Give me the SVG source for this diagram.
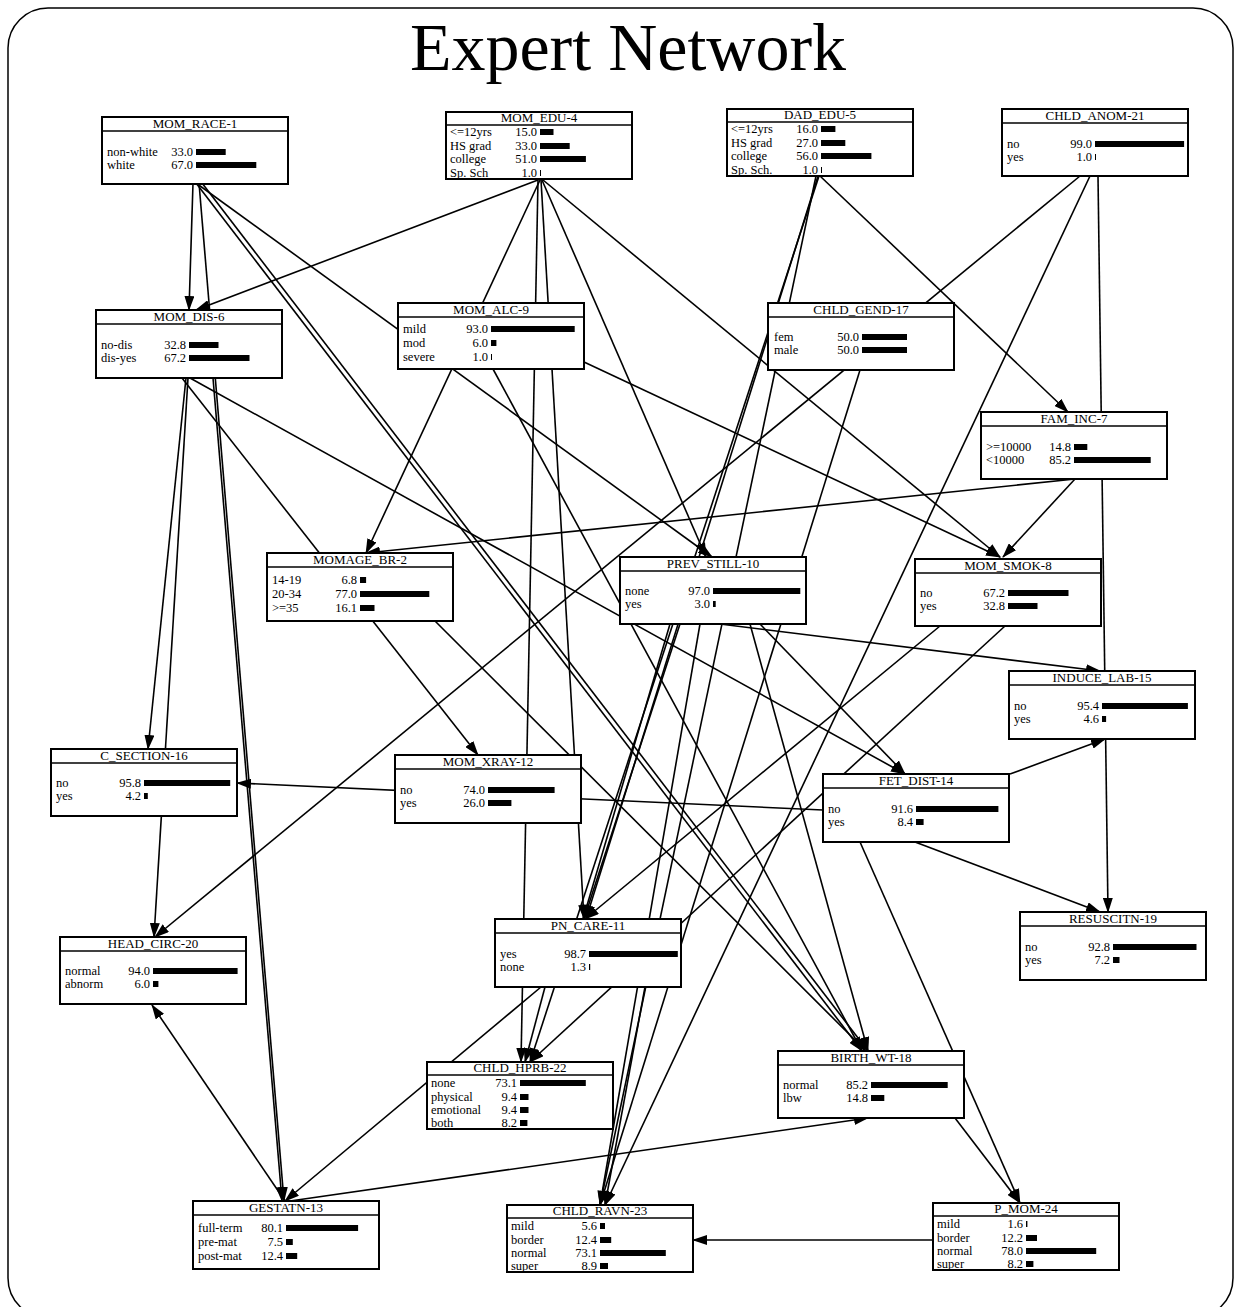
<svg xmlns="http://www.w3.org/2000/svg" width="1241" height="1307" viewBox="0 0 1241 1307">
<defs>
<style>
.frame{fill:none;stroke:#000;stroke-width:1.5}
.ttl{font-family:"Liberation Serif","Times New Roman",serif;font-size:68px;fill:#000}
.box{fill:#fff;stroke:#000;stroke-width:2}
.sep{stroke:#000;stroke-width:1.5}
.hd{font-family:"Liberation Serif","Times New Roman",serif;font-size:13px;text-anchor:middle;fill:#000}
.lb{font-family:"Liberation Serif","Times New Roman",serif;font-size:12.5px;fill:#000}
.vl{font-family:"Liberation Serif","Times New Roman",serif;font-size:12.5px;text-anchor:end;fill:#000}
.bar{fill:#000}
.e{stroke:#000;stroke-width:1.6;fill:none;marker-end:url(#ah)}
</style>
<marker id="ah" markerUnits="userSpaceOnUse" markerWidth="15" markerHeight="10" refX="14" refY="5" orient="auto"><path d="M0,0 L15,5 L0,10 Z" fill="#000"/></marker>
</defs>
<rect class="frame" x="8" y="8" width="1225" height="1310" rx="40" ry="40"/>
<text class="ttl" x="628" y="70" text-anchor="middle">Expert Network</text>
<g id="connectors">
<line class="e" x1="193" y1="183" x2="189" y2="310"/>
<line class="e" x1="199" y1="183" x2="284" y2="1201"/>
<line class="e" x1="196" y1="183" x2="712" y2="557"/>
<line class="e" x1="196" y1="183" x2="862" y2="1051"/>
<line class="e" x1="202" y1="183" x2="868" y2="1051"/>
<line class="e" x1="538" y1="180" x2="196" y2="310"/>
<line class="e" x1="540" y1="180" x2="366" y2="553"/>
<line class="e" x1="541" y1="180" x2="584" y2="919"/>
<line class="e" x1="538" y1="180" x2="521" y2="1062"/>
<line class="e" x1="542" y1="180" x2="706" y2="557"/>
<line class="e" x1="543" y1="180" x2="1000" y2="557"/>
<line class="e" x1="820" y1="176" x2="1068" y2="412"/>
<line class="e" x1="818" y1="176" x2="586" y2="919"/>
<line class="e" x1="816" y1="176" x2="600" y2="1205"/>
<line class="e" x1="819" y1="176" x2="530" y2="1062"/>
<line class="e" x1="1080" y1="176" x2="155" y2="937"/>
<line class="e" x1="1090" y1="176" x2="605" y2="1205"/>
<line class="e" x1="1098" y1="176" x2="1108" y2="912"/>
<line class="e" x1="186" y1="378" x2="148" y2="749"/>
<line class="e" x1="188" y1="378" x2="154" y2="937"/>
<line class="e" x1="213" y1="378" x2="282" y2="1201"/>
<line class="e" x1="182" y1="378" x2="478" y2="755"/>
<line class="e" x1="190" y1="378" x2="905" y2="774"/>
<line class="e" x1="1075" y1="479" x2="366" y2="553"/>
<line class="e" x1="1075" y1="479" x2="1003" y2="557"/>
<line class="e" x1="584" y1="362" x2="1000" y2="557"/>
<line class="e" x1="493" y1="369" x2="862" y2="1051"/>
<line class="e" x1="435" y1="621" x2="866" y2="1051"/>
<line class="e" x1="720" y1="624" x2="1100" y2="671"/>
<line class="e" x1="680" y1="624" x2="584" y2="919"/>
<line class="e" x1="670" y1="624" x2="583" y2="919"/>
<line class="e" x1="760" y1="624" x2="905" y2="774"/>
<line class="e" x1="700" y1="624" x2="600" y2="1205"/>
<line class="e" x1="750" y1="624" x2="868" y2="1051"/>
<line class="e" x1="940" y1="626" x2="585" y2="919"/>
<line class="e" x1="1005" y1="626" x2="530" y2="1062"/>
<line class="e" x1="860" y1="370" x2="600" y2="1205"/>
<line class="e" x1="1010" y1="774" x2="1105" y2="739"/>
<line class="e" x1="823" y1="810" x2="237" y2="783"/>
<line class="e" x1="915" y1="842" x2="1100" y2="912"/>
<line class="e" x1="860" y1="842" x2="1020" y2="1203"/>
<line class="e" x1="541" y1="987" x2="285" y2="1201"/>
<line class="e" x1="545" y1="987" x2="525" y2="1062"/>
<line class="e" x1="645" y1="987" x2="605" y2="1205"/>
<line class="e" x1="955" y1="1118" x2="1020" y2="1203"/>
<line class="e" x1="290" y1="1201" x2="868" y2="1118"/>
<line class="e" x1="285" y1="1201" x2="152" y2="1005"/>
<line class="e" x1="933" y1="1240" x2="693" y2="1240"/>
</g>
<g id="MOM_RACE-1"><rect class="box" x="102" y="117" width="186" height="67"/><line class="sep" x1="102" y1="131" x2="288" y2="131"/><text class="hd" x="195" y="128">MOM_RACE-1</text>
<text class="lb" x="107" y="156">non-white</text><text class="vl" x="193" y="156">33.0</text><rect class="bar" x="196" y="149" width="29.7" height="6"/>
<text class="lb" x="107" y="169">white</text><text class="vl" x="193" y="169">67.0</text><rect class="bar" x="196" y="162" width="60.3" height="6"/></g>
<g id="MOM_EDU-4"><rect class="box" x="446" y="112" width="186" height="67"/><line class="sep" x1="446" y1="125" x2="632" y2="125"/><text class="hd" x="539" y="122">MOM_EDU-4</text>
<text class="lb" x="450" y="136">&lt;=12yrs</text><text class="vl" x="537" y="136">15.0</text><rect class="bar" x="540" y="129" width="13.5" height="6"/>
<text class="lb" x="450" y="150">HS grad</text><text class="vl" x="537" y="150">33.0</text><rect class="bar" x="540" y="143" width="29.7" height="6"/>
<text class="lb" x="450" y="163">college</text><text class="vl" x="537" y="163">51.0</text><rect class="bar" x="540" y="156" width="45.9" height="6"/>
<text class="lb" x="450" y="177">Sp. Sch</text><text class="vl" x="537" y="177">1.0</text><rect class="bar" x="540" y="170" width="1" height="6"/></g>
<g id="DAD_EDU-5"><rect class="box" x="727" y="109" width="186" height="67"/><line class="sep" x1="727" y1="122" x2="913" y2="122"/><text class="hd" x="820" y="119">DAD_EDU-5</text>
<text class="lb" x="731" y="133">&lt;=12yrs</text><text class="vl" x="818" y="133">16.0</text><rect class="bar" x="821" y="126" width="14.4" height="6"/>
<text class="lb" x="731" y="147">HS grad</text><text class="vl" x="818" y="147">27.0</text><rect class="bar" x="821" y="140" width="24.3" height="6"/>
<text class="lb" x="731" y="160">college</text><text class="vl" x="818" y="160">56.0</text><rect class="bar" x="821" y="153" width="50.4" height="6"/>
<text class="lb" x="731" y="174">Sp. Sch.</text><text class="vl" x="818" y="174">1.0</text><rect class="bar" x="821" y="167" width="1" height="6"/></g>
<g id="CHLD_ANOM-21"><rect class="box" x="1002" y="109" width="186" height="67"/><line class="sep" x1="1002" y1="123" x2="1188" y2="123"/><text class="hd" x="1095" y="120">CHLD_ANOM-21</text>
<text class="lb" x="1007" y="148">no</text><text class="vl" x="1092" y="148">99.0</text><rect class="bar" x="1095" y="141" width="89.1" height="6"/>
<text class="lb" x="1007" y="161">yes</text><text class="vl" x="1092" y="161">1.0</text><rect class="bar" x="1095" y="154" width="1" height="6"/></g>
<g id="MOM_DIS-6"><rect class="box" x="96" y="310" width="186" height="68"/><line class="sep" x1="96" y1="324" x2="282" y2="324"/><text class="hd" x="189" y="321">MOM_DIS-6</text>
<text class="lb" x="101" y="349">no-dis</text><text class="vl" x="186" y="349">32.8</text><rect class="bar" x="189" y="342" width="29.5" height="6"/>
<text class="lb" x="101" y="362">dis-yes</text><text class="vl" x="186" y="362">67.2</text><rect class="bar" x="189" y="355" width="60.5" height="6"/></g>
<g id="MOM_ALC-9"><rect class="box" x="398" y="303" width="186" height="66"/><line class="sep" x1="398" y1="317" x2="584" y2="317"/><text class="hd" x="491" y="314">MOM_ALC-9</text>
<text class="lb" x="403" y="333">mild</text><text class="vl" x="488" y="333">93.0</text><rect class="bar" x="491" y="326" width="83.7" height="6"/>
<text class="lb" x="403" y="347">mod</text><text class="vl" x="488" y="347">6.0</text><rect class="bar" x="491" y="340" width="5.4" height="6"/>
<text class="lb" x="403" y="361">severe</text><text class="vl" x="488" y="361">1.0</text><rect class="bar" x="491" y="354" width="1" height="6"/></g>
<g id="CHLD_GEND-17"><rect class="box" x="768" y="303" width="186" height="67"/><line class="sep" x1="768" y1="317" x2="954" y2="317"/><text class="hd" x="861" y="314">CHLD_GEND-17</text>
<text class="lb" x="774" y="341">fem</text><text class="vl" x="859" y="341">50.0</text><rect class="bar" x="862" y="334" width="45" height="6"/>
<text class="lb" x="774" y="354">male</text><text class="vl" x="859" y="354">50.0</text><rect class="bar" x="862" y="347" width="45" height="6"/></g>
<g id="FAM_INC-7"><rect class="box" x="981" y="412" width="186" height="67"/><line class="sep" x1="981" y1="426" x2="1167" y2="426"/><text class="hd" x="1074" y="423">FAM_INC-7</text>
<text class="lb" x="986" y="451">&gt;=10000</text><text class="vl" x="1071" y="451">14.8</text><rect class="bar" x="1074" y="444" width="13.3" height="6"/>
<text class="lb" x="986" y="464">&lt;10000</text><text class="vl" x="1071" y="464">85.2</text><rect class="bar" x="1074" y="457" width="76.7" height="6"/></g>
<g id="MOMAGE_BR-2"><rect class="box" x="267" y="553" width="186" height="68"/><line class="sep" x1="267" y1="567" x2="453" y2="567"/><text class="hd" x="360" y="564">MOMAGE_BR-2</text>
<text class="lb" x="272" y="584">14-19</text><text class="vl" x="357" y="584">6.8</text><rect class="bar" x="360" y="577" width="6.1" height="6"/>
<text class="lb" x="272" y="598">20-34</text><text class="vl" x="357" y="598">77.0</text><rect class="bar" x="360" y="591" width="69.3" height="6"/>
<text class="lb" x="272" y="612">&gt;=35</text><text class="vl" x="357" y="612">16.1</text><rect class="bar" x="360" y="605" width="14.5" height="6"/></g>
<g id="PREV_STILL-10"><rect class="box" x="620" y="557" width="186" height="67"/><line class="sep" x1="620" y1="571" x2="806" y2="571"/><text class="hd" x="713" y="568">PREV_STILL-10</text>
<text class="lb" x="625" y="595">none</text><text class="vl" x="710" y="595">97.0</text><rect class="bar" x="713" y="588" width="87.3" height="6"/>
<text class="lb" x="625" y="608">yes</text><text class="vl" x="710" y="608">3.0</text><rect class="bar" x="713" y="601" width="2.7" height="6"/></g>
<g id="MOM_SMOK-8"><rect class="box" x="915" y="559" width="186" height="67"/><line class="sep" x1="915" y1="573" x2="1101" y2="573"/><text class="hd" x="1008" y="570">MOM_SMOK-8</text>
<text class="lb" x="920" y="597">no</text><text class="vl" x="1005" y="597">67.2</text><rect class="bar" x="1008" y="590" width="60.5" height="6"/>
<text class="lb" x="920" y="610">yes</text><text class="vl" x="1005" y="610">32.8</text><rect class="bar" x="1008" y="603" width="29.5" height="6"/></g>
<g id="INDUCE_LAB-15"><rect class="box" x="1009" y="671" width="186" height="68"/><line class="sep" x1="1009" y1="685" x2="1195" y2="685"/><text class="hd" x="1102" y="682">INDUCE_LAB-15</text>
<text class="lb" x="1014" y="710">no</text><text class="vl" x="1099" y="710">95.4</text><rect class="bar" x="1102" y="703" width="85.9" height="6"/>
<text class="lb" x="1014" y="723">yes</text><text class="vl" x="1099" y="723">4.6</text><rect class="bar" x="1102" y="716" width="4.1" height="6"/></g>
<g id="C_SECTION-16"><rect class="box" x="51" y="749" width="186" height="67"/><line class="sep" x1="51" y1="763" x2="237" y2="763"/><text class="hd" x="144" y="760">C_SECTION-16</text>
<text class="lb" x="56" y="787">no</text><text class="vl" x="141" y="787">95.8</text><rect class="bar" x="144" y="780" width="86.2" height="6"/>
<text class="lb" x="56" y="800">yes</text><text class="vl" x="141" y="800">4.2</text><rect class="bar" x="144" y="793" width="3.8" height="6"/></g>
<g id="MOM_XRAY-12"><rect class="box" x="395" y="755" width="186" height="68"/><line class="sep" x1="395" y1="769" x2="581" y2="769"/><text class="hd" x="488" y="766">MOM_XRAY-12</text>
<text class="lb" x="400" y="794">no</text><text class="vl" x="485" y="794">74.0</text><rect class="bar" x="488" y="787" width="66.6" height="6"/>
<text class="lb" x="400" y="807">yes</text><text class="vl" x="485" y="807">26.0</text><rect class="bar" x="488" y="800" width="23.4" height="6"/></g>
<g id="FET_DIST-14"><rect class="box" x="823" y="774" width="186" height="68"/><line class="sep" x1="823" y1="788" x2="1009" y2="788"/><text class="hd" x="916" y="785">FET_DIST-14</text>
<text class="lb" x="828" y="813">no</text><text class="vl" x="913" y="813">91.6</text><rect class="bar" x="916" y="806" width="82.4" height="6"/>
<text class="lb" x="828" y="826">yes</text><text class="vl" x="913" y="826">8.4</text><rect class="bar" x="916" y="819" width="7.6" height="6"/></g>
<g id="RESUSCITN-19"><rect class="box" x="1020" y="912" width="186" height="68"/><line class="sep" x1="1020" y1="926" x2="1206" y2="926"/><text class="hd" x="1113" y="923">RESUSCITN-19</text>
<text class="lb" x="1025" y="951">no</text><text class="vl" x="1110" y="951">92.8</text><rect class="bar" x="1113" y="944" width="83.5" height="6"/>
<text class="lb" x="1025" y="964">yes</text><text class="vl" x="1110" y="964">7.2</text><rect class="bar" x="1113" y="957" width="6.5" height="6"/></g>
<g id="HEAD_CIRC-20"><rect class="box" x="60" y="937" width="186" height="67"/><line class="sep" x1="60" y1="951" x2="246" y2="951"/><text class="hd" x="153" y="948">HEAD_CIRC-20</text>
<text class="lb" x="65" y="975">normal</text><text class="vl" x="150" y="975">94.0</text><rect class="bar" x="153" y="968" width="84.6" height="6"/>
<text class="lb" x="65" y="988">abnorm</text><text class="vl" x="150" y="988">6.0</text><rect class="bar" x="153" y="981" width="5.4" height="6"/></g>
<g id="PN_CARE-11"><rect class="box" x="495" y="919" width="186" height="68"/><line class="sep" x1="495" y1="933" x2="681" y2="933"/><text class="hd" x="588" y="930">PN_CARE-11</text>
<text class="lb" x="500" y="958">yes</text><text class="vl" x="586" y="958">98.7</text><rect class="bar" x="589" y="951" width="88.8" height="6"/>
<text class="lb" x="500" y="971">none</text><text class="vl" x="586" y="971">1.3</text><rect class="bar" x="589" y="964" width="1.2" height="6"/></g>
<g id="CHLD_HPRB-22"><rect class="box" x="427" y="1062" width="186" height="67"/><line class="sep" x1="427" y1="1075" x2="613" y2="1075"/><text class="hd" x="520" y="1072">CHLD_HPRB-22</text>
<text class="lb" x="431" y="1087">none</text><text class="vl" x="517" y="1087">73.1</text><rect class="bar" x="520" y="1080" width="65.8" height="6"/>
<text class="lb" x="431" y="1101">physical</text><text class="vl" x="517" y="1101">9.4</text><rect class="bar" x="520" y="1094" width="8.5" height="6"/>
<text class="lb" x="431" y="1114">emotional</text><text class="vl" x="517" y="1114">9.4</text><rect class="bar" x="520" y="1107" width="8.5" height="6"/>
<text class="lb" x="431" y="1127">both</text><text class="vl" x="517" y="1127">8.2</text><rect class="bar" x="520" y="1120" width="7.4" height="6"/></g>
<g id="BIRTH_WT-18"><rect class="box" x="778" y="1051" width="186" height="67"/><line class="sep" x1="778" y1="1065" x2="964" y2="1065"/><text class="hd" x="871" y="1062">BIRTH_WT-18</text>
<text class="lb" x="783" y="1089">normal</text><text class="vl" x="868" y="1089">85.2</text><rect class="bar" x="871" y="1082" width="76.7" height="6"/>
<text class="lb" x="783" y="1102">lbw</text><text class="vl" x="868" y="1102">14.8</text><rect class="bar" x="871" y="1095" width="13.3" height="6"/></g>
<g id="GESTATN-13"><rect class="box" x="193" y="1201" width="186" height="68"/><line class="sep" x1="193" y1="1215" x2="379" y2="1215"/><text class="hd" x="286" y="1212">GESTATN-13</text>
<text class="lb" x="198" y="1232">full-term</text><text class="vl" x="283" y="1232">80.1</text><rect class="bar" x="286" y="1225" width="72.1" height="6"/>
<text class="lb" x="198" y="1246">pre-mat</text><text class="vl" x="283" y="1246">7.5</text><rect class="bar" x="286" y="1239" width="6.8" height="6"/>
<text class="lb" x="198" y="1260">post-mat</text><text class="vl" x="283" y="1260">12.4</text><rect class="bar" x="286" y="1253" width="11.2" height="6"/></g>
<g id="CHLD_RAVN-23"><rect class="box" x="507" y="1205" width="186" height="67"/><line class="sep" x1="507" y1="1218" x2="693" y2="1218"/><text class="hd" x="600" y="1215">CHLD_RAVN-23</text>
<text class="lb" x="511" y="1230">mild</text><text class="vl" x="597" y="1230">5.6</text><rect class="bar" x="600" y="1223" width="5" height="6"/>
<text class="lb" x="511" y="1244">border</text><text class="vl" x="597" y="1244">12.4</text><rect class="bar" x="600" y="1237" width="11.2" height="6"/>
<text class="lb" x="511" y="1257">normal</text><text class="vl" x="597" y="1257">73.1</text><rect class="bar" x="600" y="1250" width="65.8" height="6"/>
<text class="lb" x="511" y="1270">super</text><text class="vl" x="597" y="1270">8.9</text><rect class="bar" x="600" y="1263" width="8" height="6"/></g>
<g id="P_MOM-24"><rect class="box" x="933" y="1203" width="186" height="67"/><line class="sep" x1="933" y1="1216" x2="1119" y2="1216"/><text class="hd" x="1026" y="1213">P_MOM-24</text>
<text class="lb" x="937" y="1228">mild</text><text class="vl" x="1023" y="1228">1.6</text><rect class="bar" x="1026" y="1221" width="1.4" height="6"/>
<text class="lb" x="937" y="1242">border</text><text class="vl" x="1023" y="1242">12.2</text><rect class="bar" x="1026" y="1235" width="11" height="6"/>
<text class="lb" x="937" y="1255">normal</text><text class="vl" x="1023" y="1255">78.0</text><rect class="bar" x="1026" y="1248" width="70.2" height="6"/>
<text class="lb" x="937" y="1268">super</text><text class="vl" x="1023" y="1268">8.2</text><rect class="bar" x="1026" y="1261" width="7.4" height="6"/></g>
</svg>
